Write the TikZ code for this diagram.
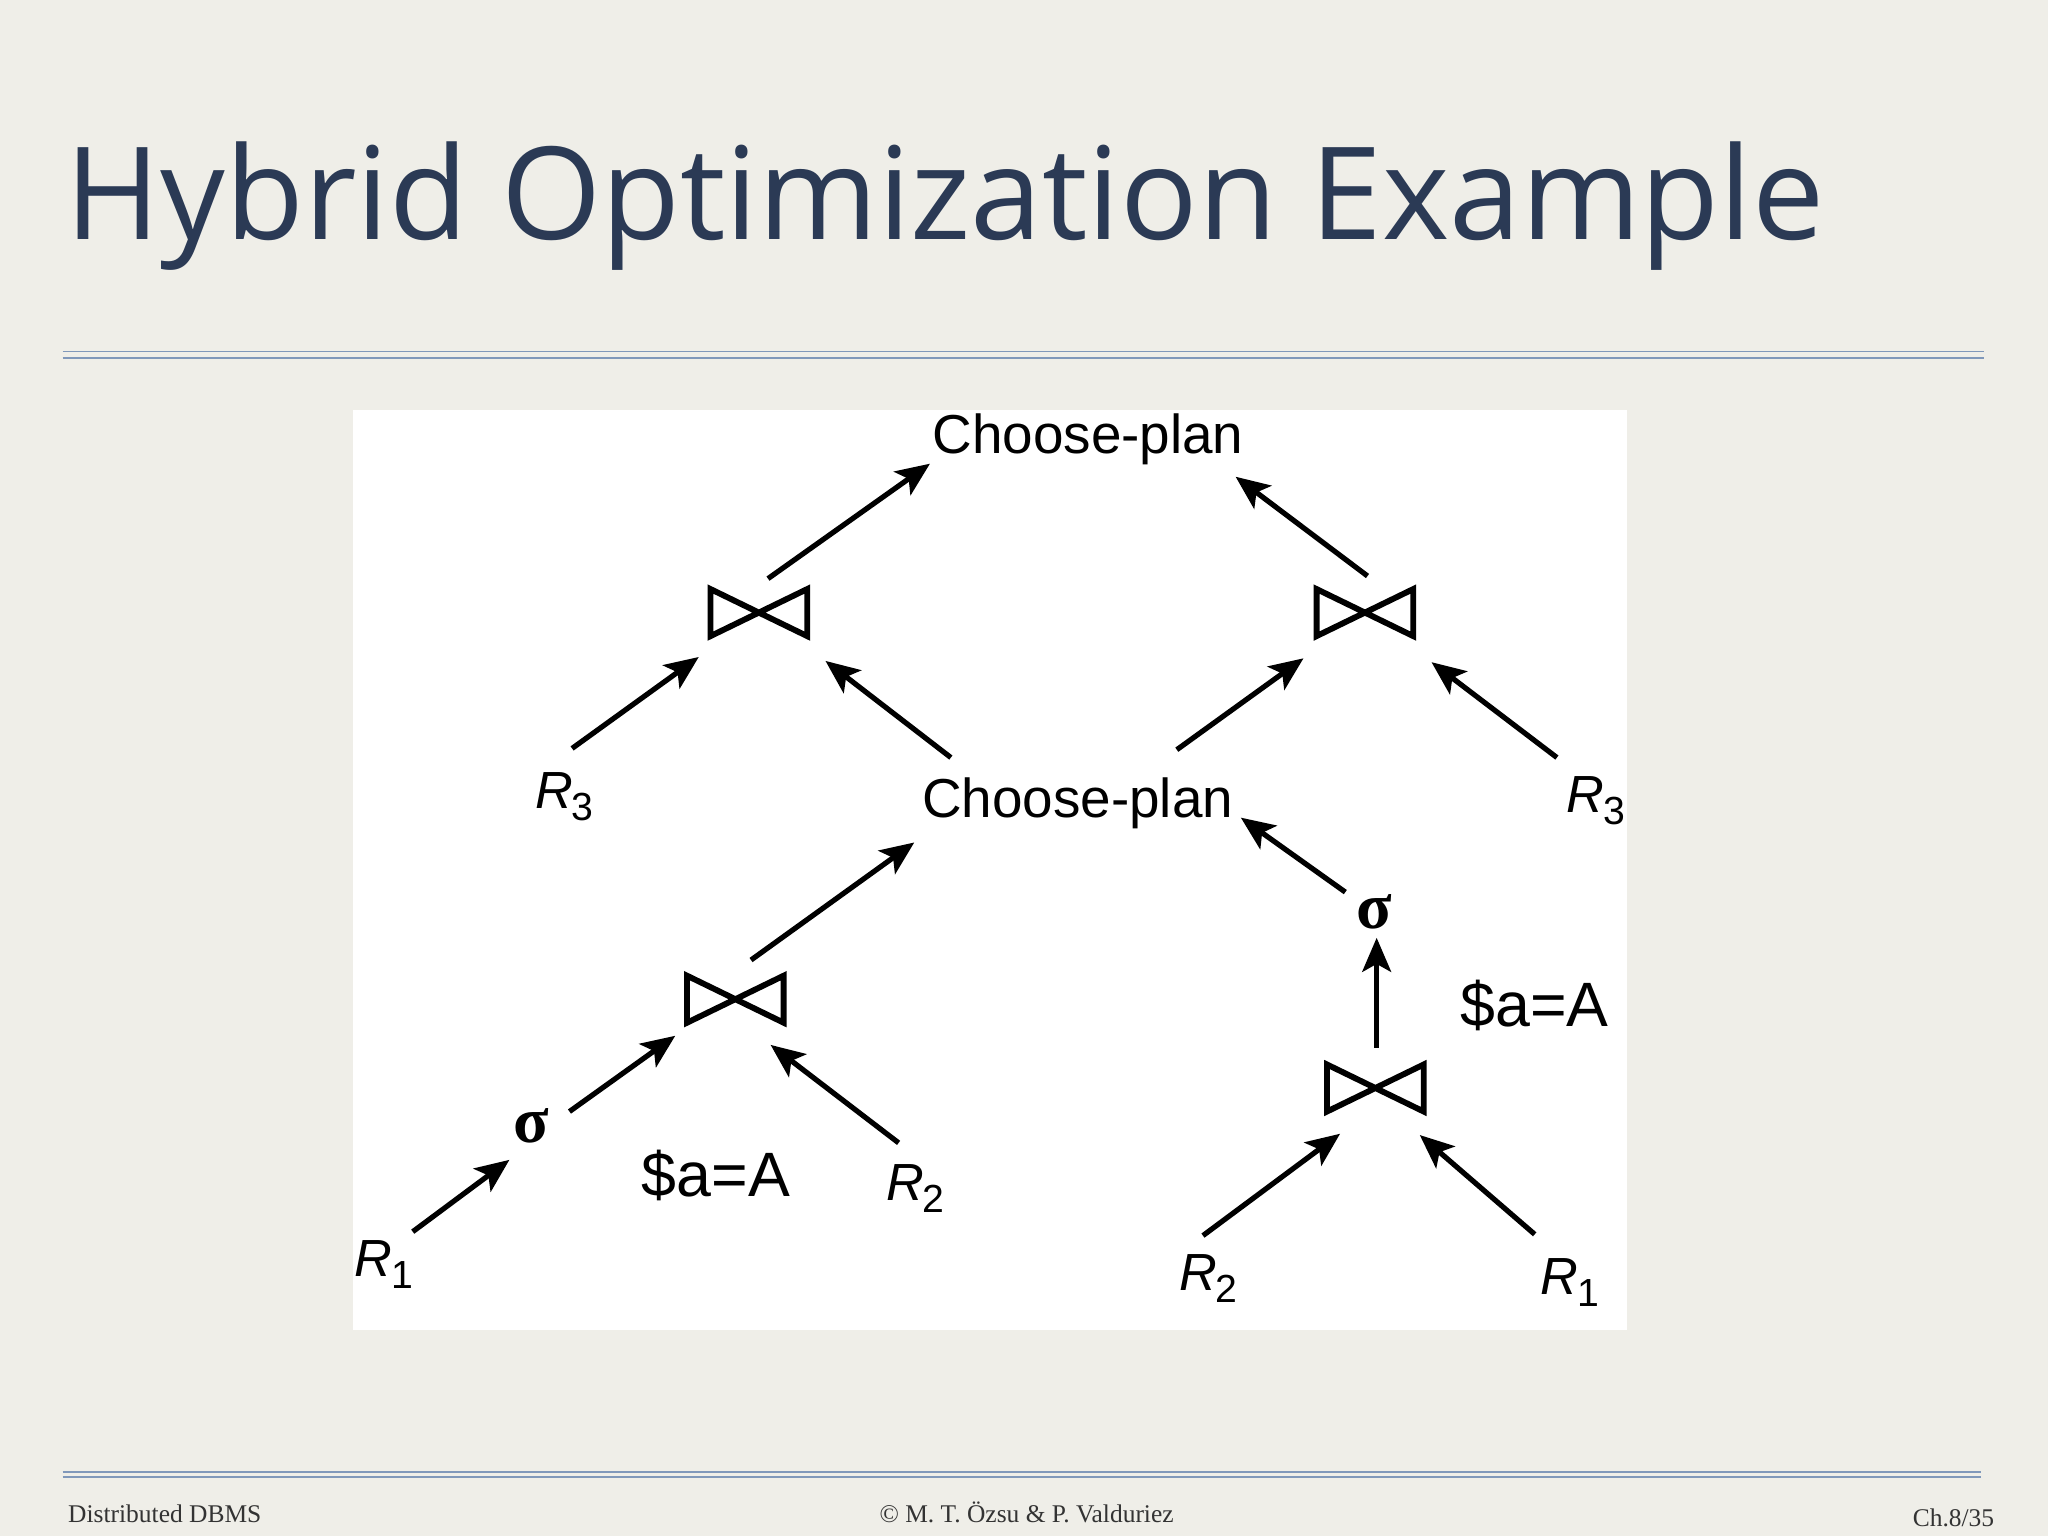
\documentclass[tikz,border=0pt]{standalone}
\usepackage{fontspec}
\setmainfont{Liberation Sans}
\newfontfamily\titlefont{Open Sans}
\newfontfamily\footfont{Liberation Serif}
\newfontfamily\sigfont{Liberation Serif}
\usetikzlibrary{arrows.meta}
\definecolor{bgc}{HTML}{EFEEE8}
\definecolor{titlec}{HTML}{2B3A55}
\definecolor{rulec}{HTML}{8098BA}
\tikzset{
  arr/.style={line width=4pt,-{Stealth[length=26pt,width=22pt,inset=6pt]}},
  lbl/.style={inner sep=0pt,font=\fontsize{42}{44}\selectfont},
  rel/.style={inner sep=0pt,font=\fontsize{40}{42}\selectfont},
  sig/.style={inner sep=0pt,font=\sigfont\bfseries\fontsize{50}{52}\selectfont},
  cond/.style={inner sep=0pt,font=\fontsize{48}{50}\selectfont},
  foot/.style={inner sep=0pt,font=\footfont\fontsize{19.5}{21}\selectfont,text=black!80},
  join/.pic={\draw[line width=4.5pt,line join=miter] (-37,-18)--(37,18)--(37,-18)--(-37,18)--cycle;}
}
\newcommand{\Rr}[1]{\textit{R}\kern-1pt\raisebox{-9pt}{\fontsize{30}{30}\selectfont #1}}
\begin{document}
\begin{tikzpicture}[x=1pt,y=-1pt]
\useasboundingbox (0,0) rectangle (1568,1176);
\fill[bgc] (0,0) rectangle (1568,1176);
\node[anchor=base west,inner sep=0pt,text=titlec,font=\titlefont\fontsize{98.5}{104}\selectfont] (title) at (50,183) {Hybrid Optimization Example};
\draw[rulec,line width=1.2pt] (48,269)--(1519,269) (48,274)--(1519,274);
\draw[rulec,line width=1.2pt] (48,1127)--(1517,1127) (48,1131)--(1517,1131);
\fill[white] (270,314) rectangle (1246,1018);
% nodes
\node[lbl] (cp1) at (833,336) {Choose-plan};
\pic at (581,469) {join};
\pic at (1045,469) {join};
\node[rel] (r3a) at (432,610) {\Rr{3}};
\node[lbl] (cp2) at (825,615) {Choose-plan};
\node[rel] (r3b) at (1222,613) {\Rr{3}};
\pic at (563,765) {join};
\node[sig] (s1) at (407,862) {σ};
\node[cond] (c1) at (548,900) {\$a=A};
\node[rel] (r2a) at (701,910) {\Rr{2}};
\node[rel] (r1a) at (294,968) {\Rr{1}};
\node[sig] (s2) at (1052,698) {σ};
\node[cond] (c2) at (1175,770) {\$a=A};
\pic at (1053,833) {join};
\node[rel] (r2b) at (925,979) {\Rr{2}};
\node[rel] (r1b) at (1202,982) {\Rr{1}};
% arrows
\coordinate (a1s) at (588,443); \coordinate (a1e) at (712,355);
\coordinate (a2s) at (1047,441); \coordinate (a2e) at (946,365);
\coordinate (a3s) at (438,573); \coordinate (a3e) at (535,503);
\coordinate (a4s) at (728,580); \coordinate (a4e) at (632,506);
\coordinate (a5s) at (901,574); \coordinate (a5e) at (998,504);
\coordinate (a6s) at (1192,580); \coordinate (a6e) at (1096,507);
\coordinate (a7s) at (575,735); \coordinate (a7e) at (700,645);
\coordinate (a8s) at (1030,683); \coordinate (a8e) at (950,626);
\coordinate (a9s) at (436,851); \coordinate (a9e) at (517,793);
\coordinate (a10s) at (688,875); \coordinate (a10e) at (590,800);
\coordinate (a11s) at (316,943); \coordinate (a11e) at (390,888);
\coordinate (a12s) at (1054,802); \coordinate (a12e) at (1054,718);
\coordinate (a13s) at (921,946); \coordinate (a13e) at (1026,868);
\coordinate (a14s) at (1175,945); \coordinate (a14e) at (1087,869);
\foreach \i in {1,...,14} \draw[arr] (a\i s)--(a\i e);
% footer
\node[foot,anchor=base west] (f1) at (52,1166) {Distributed DBMS};
\node[foot,anchor=base] (f2) at (786,1166) {© M. T. Özsu \& P. Valduriez};
\node[foot,anchor=base east] (f3) at (1527,1169) {Ch.8/35};
\end{tikzpicture}
\end{document}
